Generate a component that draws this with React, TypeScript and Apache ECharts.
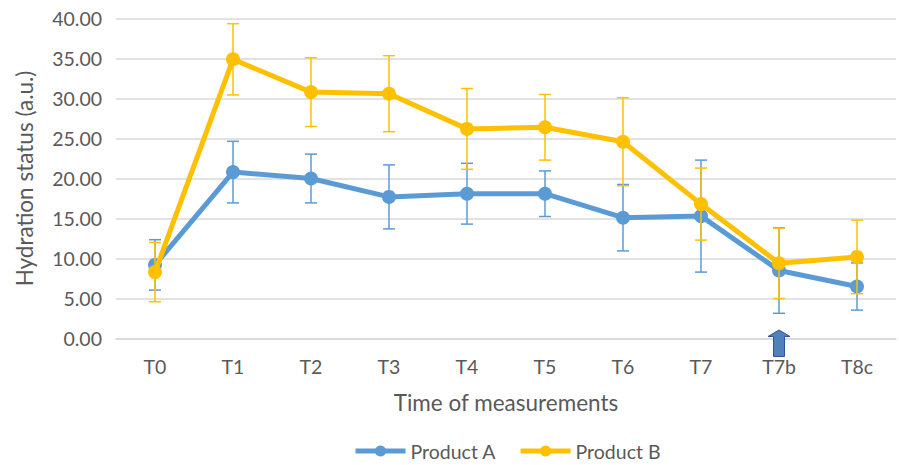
import React, { useEffect, useRef } from "react";
import * as echarts from "echarts";

// Measurement times (category axis)
const times = ["T0", "T1", "T2", "T3", "T4", "T5", "T6", "T7", "T7b", "T8c"];

// Mean hydration status per time point
const productA = [9.2, 20.8, 20.0, 17.7, 18.1, 18.1, 15.1, 15.3, 8.5, 6.5];
const productB = [8.3, 34.9, 30.8, 30.6, 26.2, 26.4, 24.6, 16.8, 9.4, 10.2];

// Standard deviations (symmetric error bars)
const sdA = [3.15, 3.85, 3.05, 4.0, 3.8, 2.85, 4.15, 7.0, 5.35, 2.95];
const sdB = [3.7, 4.45, 4.3, 4.75, 5.05, 4.1, 5.5, 4.5, 4.4, 4.6];

// Y axis ticks
const yMin = 0;
const yMax = 40;
const yStep = 5;

const BLUE = "#5B9BD5";
const GOLD = "#FFC000";
const FONT = "Lato, 'Open Sans', sans-serif";
const TEXT = "#595959";

function errorData(means: number[], sds: number[]) {
  return means.map((m, i) => [i, m - sds[i], m + sds[i]]);
}

function errorSeries(means: number[], sds: number[], color: string, z: number) {
  return {
    type: "custom",
    z,
    silent: true,
    encode: { x: 0, y: [1, 2] },
    data: errorData(means, sds),
    renderItem: (_params: any, api: any) => {
      const i = api.value(0);
      const lo = api.coord([i, api.value(1)]);
      const hi = api.coord([i, api.value(2)]);
      const half = 6;
      const style = { stroke: color, lineWidth: 1.5 };
      return {
        type: "group",
        children: [
          { type: "line", shape: { x1: hi[0], y1: hi[1], x2: lo[0], y2: lo[1] }, style },
          { type: "line", shape: { x1: hi[0] - half, y1: hi[1], x2: hi[0] + half, y2: hi[1] }, style },
          { type: "line", shape: { x1: lo[0] - half, y1: lo[1], x2: lo[0] + half, y2: lo[1] }, style },
        ],
      };
    },
  };
}

export default function App() {
  const ref = useRef<HTMLDivElement>(null);

  useEffect(() => {
    document.body.style.margin = "0";
    if (!ref.current) return;
    const chart = echarts.init(ref.current, null, { renderer: "svg" });

    chart.setOption({
      animation: false,
      backgroundColor: "#ffffff",
      textStyle: { fontFamily: FONT },
      grid: { left: 116, right: 3, top: 18.5, bottom: 126.5, containLabel: false },
      legend: {
        data: ["Product A", "Product B"],
        top: 436,
        left: 348,
        itemWidth: 50,
        itemHeight: 14,
        itemGap: 22,
        lineStyle: { width: 5 },
        textStyle: { color: TEXT, fontSize: 19.5, fontFamily: FONT },
      },
      xAxis: {
        type: "category",
        data: times,
        boundaryGap: true,
        name: "Time of measurements",
        nameLocation: "middle",
        nameGap: 52,
        nameTextStyle: { color: TEXT, fontSize: 22.5, fontFamily: FONT },
        axisLine: { lineStyle: { color: "#D9D9D9", width: 1.5 } },
        axisTick: { show: false },
        axisLabel: { color: TEXT, fontSize: 19.5, margin: 18, fontFamily: FONT },
      },
      yAxis: {
        type: "value",
        min: yMin,
        max: yMax,
        interval: yStep,
        name: "Hydration status (a.u.)",
        nameLocation: "middle",
        nameGap: 80,
        nameTextStyle: { color: TEXT, fontSize: 22.5, fontFamily: FONT },
        axisLine: { show: false },
        axisTick: { show: false },
        axisLabel: {
          color: TEXT,
          fontSize: 19.5,
          margin: 14,
          fontFamily: FONT,
          formatter: (v: number) => v.toFixed(2),
        },
        splitLine: { lineStyle: { color: "#D9D9D9", width: 1.5 } },
      },
      series: [
        errorSeries(productA, sdA, BLUE, 2),
        {
          name: "Product A",
          type: "line",
          z: 3,
          data: productA,
          symbol: "circle",
          symbolSize: 14,
          lineStyle: { color: BLUE, width: 5 },
          itemStyle: { color: BLUE },
        },
        errorSeries(productB, sdB, GOLD, 4),
        {
          name: "Product B",
          type: "line",
          z: 5,
          data: productB,
          symbol: "circle",
          symbolSize: 14,
          lineStyle: { color: GOLD, width: 5 },
          itemStyle: { color: GOLD },
        },
      ],
    });

    // Upward arrow marking the T7b measurement, anchored to the axis scales
    const ax = chart.convertToPixel({ xAxisIndex: 0 }, "T7b") as number;
    const y0 = chart.convertToPixel({ yAxisIndex: 0 }, 0) as number;
    const tip = y0 - 8.5;
    const headBase = y0 - 2;
    const tail = y0 + 18;
    chart.setOption({
      graphic: [
        {
          type: "polygon",
          z: 10,
          shape: {
            points: [
              [ax, tip],
              [ax + 11, headBase],
              [ax + 5.5, headBase],
              [ax + 5.5, tail],
              [ax - 5.5, tail],
              [ax - 5.5, headBase],
              [ax - 11, headBase],
            ],
          },
          style: { fill: "#4F81BD", stroke: "#2F5597", lineWidth: 1 },
        },
      ],
    });

    return () => chart.dispose();
  }, []);

  return <div ref={ref} style={{ width: 899, height: 465 }} />;
}
